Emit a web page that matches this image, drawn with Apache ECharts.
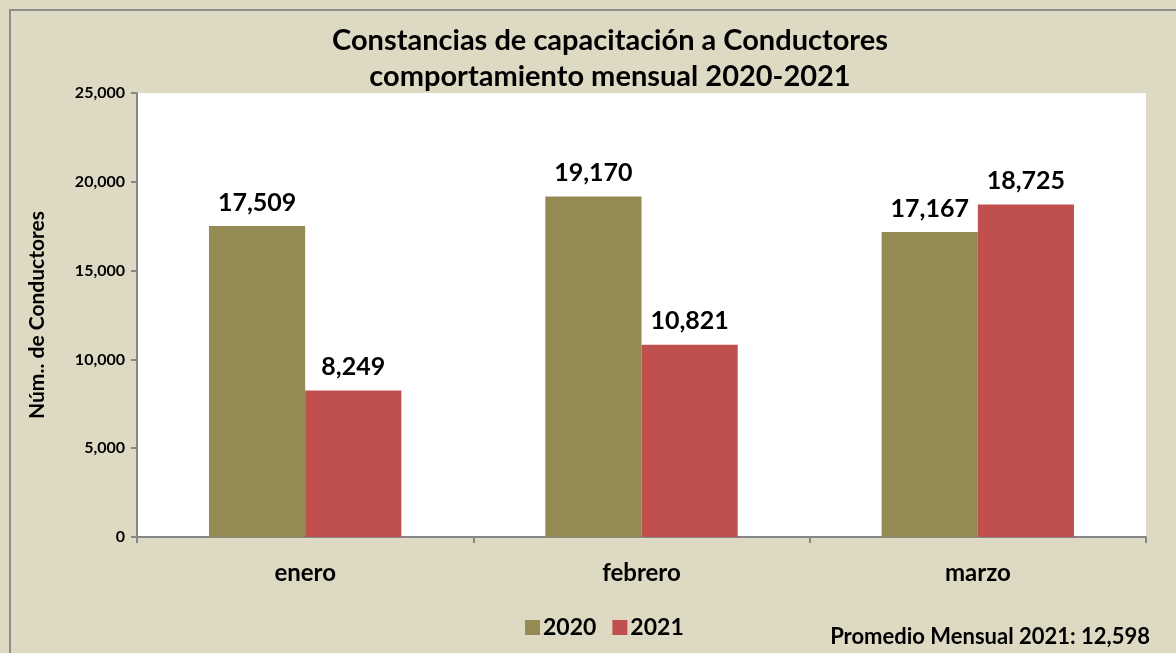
<!DOCTYPE html>
<html>
<head>
<meta charset="utf-8">
<script src="https://cdn.jsdelivr.net/npm/echarts@6/dist/echarts.min.js"></script>
<style>
  html, body { margin: 0; padding: 0; background: #DDD9C3; }
  #chart { width: 1176px; height: 653px; }
</style>
</head>
<body>
<div id="chart"></div>
<script>
// Monthly counts of driver training certificates
const months = ['enero', 'febrero', 'marzo'];
const values2020 = [17509, 19170, 17167];
const values2021 = [8249, 10821, 18725];
const yTicks = [0, 5000, 10000, 15000, 20000, 25000];
const footnote = 'Promedio Mensual 2021: 12,598';

const FONT = 'Lato, "Open Sans", sans-serif';
const fmt = v => v.toLocaleString('en-US');

const chart = echarts.init(document.getElementById('chart'));
chart.setOption({
  backgroundColor: '#DDD9C3',
  animation: false,
  textStyle: { fontFamily: FONT, fontWeight: 'bold', color: '#000' },
  title: {
    text: 'Constancias de capacitación a Conductores\ncomportamiento mensual 2020-2021',
    left: 605, top: 18, textAlign: 'center',
    textStyle: { fontFamily: FONT, fontSize: 29, fontWeight: 'bold', lineHeight: 36, color: '#000' }
  },
  legend: {
    data: ['2020', '2021'],
    left: 520, top: 611,
    itemWidth: 15, itemHeight: 15, itemGap: 16,
    icon: 'rect',
    textStyle: { fontFamily: FONT, fontSize: 23, fontWeight: 'bold', color: '#000', padding: [0, 0, 0, -2] }
  },
  grid: { left: 137, right: 30, top: 93, bottom: 116, backgroundColor: '#fff', show: true, borderWidth: 0 },
  xAxis: {
    type: 'category',
    data: months,
    axisLine: { lineStyle: { color: '#868686', width: 2 } },
    axisTick: { show: true, length: 6, lineStyle: { color: '#868686', width: 2 } },
    axisLabel: { fontFamily: FONT, fontSize: 24, fontWeight: 'bold', color: '#000', margin: 24 }
  },
  yAxis: {
    type: 'value',
    min: yTicks[0], max: yTicks[yTicks.length - 1], interval: yTicks[1] - yTicks[0],
    name: 'Núm.. de Conductores',
    nameLocation: 'middle', nameGap: 89, nameRotate: 90,
    nameTextStyle: { fontFamily: FONT, fontSize: 21, fontWeight: 'bold', color: '#000' },
    axisLine: { show: true, lineStyle: { color: '#868686', width: 2 } },
    axisTick: { show: true, length: 6, lineStyle: { color: '#868686', width: 2 } },
    splitLine: { show: false },
    axisLabel: { fontFamily: FONT, fontSize: 16, fontWeight: 'bold', color: '#000', margin: 12, formatter: fmt }
  },
  series: [
    {
      name: '2020', type: 'bar', data: values2020,
      barWidth: '28.6%', barGap: '0%',
      itemStyle: { color: '#948A54' },
      label: { show: true, position: 'top', distance: 11, formatter: p => fmt(p.value),
        fontFamily: FONT, fontSize: 25, fontWeight: 'bold', color: '#000' }
    },
    {
      name: '2021', type: 'bar', data: values2021,
      barWidth: '28.6%', barGap: '0%',
      itemStyle: { color: '#C0504D' },
      label: { show: true, position: 'top', distance: 11, formatter: p => fmt(p.value),
        fontFamily: FONT, fontSize: 25, fontWeight: 'bold', color: '#000' }
    }
  ],
  graphic: [
    { type: 'rect', shape: { x: 10, y: 10, width: 1200, height: 700 },
      style: { fill: 'none', stroke: '#8C8C8C', lineWidth: 2 }, silent: true },
    { type: 'text', right: 26, top: 626,
      style: { text: footnote, font: 'bold 22px ' + FONT, fill: '#000' } }
  ]
});
</script>
</body>
</html>
